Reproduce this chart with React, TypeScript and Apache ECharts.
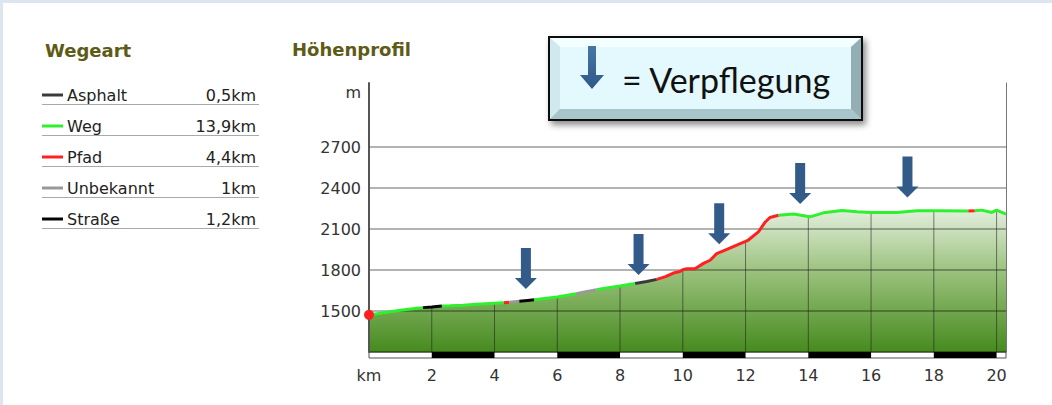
import React, { useEffect, useRef } from 'react';
import * as echarts from 'echarts';

// Elevation profile (km, m)
const profileKm = [
  0.0, 0.46, 1.0, 1.52, 1.72, 2.0, 2.32, 2.58, 3.0, 3.43, 4.0, 4.3, 4.47, 4.79, 5.13, 5.26,
  6.0, 6.6, 6.83, 7.25, 7.47, 8.0, 8.48, 8.85, 9.17, 9.45, 9.7, 9.91, 10.0, 10.13, 10.39,
  10.66, 10.87, 11.08, 11.35, 11.72, 12.0, 12.09, 12.41, 12.62, 12.78, 13.05, 13.53, 14.0,
  14.06, 14.48, 15.07, 15.55, 16.0, 16.08, 16.82, 17.46, 18.0, 18.1, 19.1, 19.3, 19.53,
  19.85, 20.0, 20.3,
];
const profileElev = [
  1472, 1488, 1505, 1520, 1525, 1530, 1536, 1538, 1543, 1549, 1557, 1561, 1565, 1571, 1579, 1582,
  1603, 1627, 1638, 1656, 1666, 1683, 1702, 1716, 1732, 1752, 1778, 1790, 1803, 1810, 1810,
  1849, 1872, 1920, 1946, 1983, 2010, 2020, 2080, 2150, 2185, 2202, 2210, 2193,
  2190, 2219, 2237, 2227, 2222, 2222, 2222, 2234, 2234, 2234, 2232, 2235, 2239,
  2222, 2239, 2210,
];

// Path type segments (start km, type)
const segStart = [0, 1.72, 2.32, 4.3, 4.47, 4.79, 5.26, 6.6, 7.25, 8.48, 9.17, 13.05, 19.1, 19.3];
const segType = ['Weg', 'Straße', 'Weg', 'Pfad', 'Unbekannt', 'Straße', 'Weg', 'Unbekannt', 'Weg', 'Asphalt', 'Pfad', 'Weg', 'Pfad', 'Weg'];

// Legend (Wegeart)
const wegTypes = ['Asphalt', 'Weg', 'Pfad', 'Unbekannt', 'Straße'];
const wegKm = ['0,5km', '13,9km', '4,4km', '1km', '1,2km'];
const wegColors = ['#3a3a3a', '#2ff02f', '#ff2020', '#999999', '#050505'];

// Verpflegung arrows (km, elevation of arrow tip)
const arrowKm = [5.0, 8.59, 11.16, 13.74, 17.16];
const arrowTip = [1661, 1763, 1990, 2283, 2332];

// Axis ticks
const yLabelValues = [1500, 1800, 2100, 2400, 2700];
const xLabelValues = [2, 4, 6, 8, 10, 12, 14, 16, 18, 20];
const stripeStartKm = [2, 6, 10, 14, 18];

const FONT = '"DejaVu Sans", sans-serif';
const ARROW_PATH = 'path://M6,0 L16,0 L16,30 L22,30 L11,41 L0,30 L6,30 Z';

export default function App() {
  const ref = useRef<HTMLDivElement>(null);

  useEffect(() => {
    if (!ref.current) return;
    const chart = echarts.init(ref.current, undefined, { renderer: 'svg' });

    const kmMax = profileKm[profileKm.length - 1];

    const lineSeries = wegTypes.map((t, ti) => {
      const data: any[] = [];
      segStart.forEach((s, si) => {
        if (segType[si] !== t) return;
        const e = si + 1 < segStart.length ? segStart[si + 1] : kmMax;
        profileKm.forEach((k, pi) => {
          if (k >= s && k <= e) data.push([k, profileElev[pi]]);
        });
        data.push([e, '-']);
      });
      return {
        type: 'line',
        name: t,
        data,
        xAxisIndex: 0,
        yAxisIndex: 0,
        symbol: 'none',
        showSymbol: false,
        connectNulls: false,
        clip: false,
        lineStyle: { color: wegColors[ti], width: 3 },
        z: 4,
        silent: true,
      };
    });

    const gridBars = profileKm
      .map((k, i) => [k, profileElev[i]])
      .filter(([k]) => k > 0 && Math.abs(k / 2 - Math.round(k / 2)) < 1e-9);

    const graphics: any[] = [];
    graphics.push({
      type: 'text', x: 45, y: 50,
      style: { text: 'Wegeart', font: `bold 18px ${FONT}`, fill: '#5e5b17', verticalAlign: 'middle' },
    });
    graphics.push({
      type: 'text', x: 292, y: 49,
      style: { text: 'Höhenprofil', font: `bold 18px ${FONT}`, fill: '#5e5b17', verticalAlign: 'middle' },
    });
    wegTypes.forEach((t, i) => {
      const y = 95 + i * 31;
      graphics.push({ type: 'line', shape: { x1: 42, y1: y, x2: 63, y2: y }, style: { stroke: wegColors[i], lineWidth: 3 } });
      graphics.push({ type: 'text', x: 67, y, style: { text: t, font: `16px ${FONT}`, fill: '#222', verticalAlign: 'middle' } });
      graphics.push({ type: 'text', x: 256, y, style: { text: wegKm[i], font: `16px ${FONT}`, fill: '#222', verticalAlign: 'middle', align: 'right' } });
      graphics.push({ type: 'line', shape: { x1: 42, y1: y + 9.5, x2: 259, y2: y + 9.5 }, style: { stroke: '#aaaaaa', lineWidth: 1 } });
    });

    // Verpflegung box
    const bx = 549, by = 37, bw = 313, bh = 83, bv = 10;
    graphics.push({
      type: 'rect', shape: { x: bx, y: by, width: bw, height: bh },
      style: { fill: '#c6e3e8', stroke: '#111', lineWidth: 2, shadowBlur: 6, shadowOffsetX: 3, shadowOffsetY: 4, shadowColor: 'rgba(0,0,0,0.45)' },
      z: 10,
    });
    const x0 = bx + 1, y0 = by + 1, x1 = bx + bw - 1, y1 = by + bh - 1;
    graphics.push({ type: 'polygon', shape: { points: [[x0, y0], [x1, y0], [x1 - bv, y0 + 9], [x0 + bv, y0 + 9]] }, style: { fill: '#f3feff' }, z: 11 });
    graphics.push({ type: 'polygon', shape: { points: [[x0, y0], [x0 + bv, y0 + 9], [x0 + bv, y1 - bv], [x0, y1]] }, style: { fill: '#cfe9ee' }, z: 11 });
    graphics.push({ type: 'polygon', shape: { points: [[x1, y0], [x1, y1], [x1 - bv, y1 - bv], [x1 - bv, y0 + 9]] }, style: { fill: '#93aeb5' }, z: 11 });
    graphics.push({ type: 'polygon', shape: { points: [[x0, y1], [x1, y1], [x1 - bv, y1 - bv], [x0 + bv, y1 - bv]] }, style: { fill: '#a8c5cb' }, z: 11 });
    graphics.push({ type: 'rect', shape: { x: x0 + bv, y: y0 + 9, width: x1 - x0 - 2 * bv, height: y1 - y0 - 9 - bv }, style: { fill: '#e3f9fd' }, z: 11 });
    graphics.push({
      type: 'polygon',
      shape: { points: [[588, 46], [596, 46], [596, 75], [604, 75], [592, 89], [580, 75], [588, 75]] },
      style: { fill: new echarts.graphic.LinearGradient(0, 0, 0, 1, [{ offset: 0, color: '#4676a8' }, { offset: 1, color: '#2f5886' }]) },
      z: 12,
    });
    graphics.push({
      type: 'text', x: 622, y: 79,
      style: { text: '= Verpflegung', font: `34px Lato, "Open Sans", sans-serif`, fill: '#111', verticalAlign: 'middle' },
      z: 12,
    });

    const option: any = {
      animation: false,
      backgroundColor: 'transparent',
      textStyle: { fontFamily: FONT },
      grid: [
        { left: 369, right: 46, top: 83, bottom: 53, containLabel: false, outerBoundsMode: 'none' },
        { left: 369, right: 46, top: 352, height: 6, show: true, borderColor: '#555', borderWidth: 1, backgroundColor: '#ffffff', containLabel: false, outerBoundsMode: 'none' },
      ],
      xAxis: [
        { type: 'value', gridIndex: 0, min: 0, max: kmMax, show: false },
        {
          type: 'value', gridIndex: 1, min: 0, max: kmMax, interval: 2,
          axisLine: { show: false }, axisTick: { show: false }, splitLine: { show: false },
          axisLabel: {
            margin: 9, color: '#333', fontSize: 16, fontFamily: FONT,
            showMaxLabel: true,
            formatter: (v: number) => (v === 0 ? 'km' : xLabelValues.includes(v) ? String(v) : ''),
          },
        },
      ],
      yAxis: [
        {
          type: 'value', gridIndex: 0, min: 1200, max: 3170, interval: 300, z: 2,
          name: 'm', nameLocation: 'end', nameGap: -17,
          nameTextStyle: { color: '#333', fontSize: 16, fontFamily: FONT, align: 'right', padding: [0, 8, 0, 0] },
          axisLine: { show: true, lineStyle: { color: '#555', width: 2 } },
          axisTick: { show: false },
          axisLabel: {
            margin: 8, color: '#333', fontSize: 16, fontFamily: FONT,
            formatter: (v: number) => (yLabelValues.includes(v) ? String(v) : ''),
          },
          splitLine: {
            show: true,
            lineStyle: {
              width: 1.5,
              color: ['rgba(0,0,0,0.45)', 'rgba(0,0,0,0.4)', 'rgba(0,0,0,0.4)', 'rgba(0,0,0,0.4)', 'rgba(0,0,0,0.4)', 'rgba(0,0,0,0.4)', 'rgba(0,0,0,0)', 'rgba(0,0,0,0)'],
            },
          },
        },
        { type: 'value', gridIndex: 1, min: 0, max: 1, show: false },
        {
          type: 'value', gridIndex: 0, min: 1200, max: 3170, position: 'right', z: 2,
          axisLine: { show: true, lineStyle: { color: '#777', width: 1 } },
          axisTick: { show: false }, axisLabel: { show: false }, splitLine: { show: false },
        },
      ],
      graphic: graphics,
      series: [
        {
          type: 'line',
          name: 'Höhenprofil',
          data: profileKm.map((k, i) => [k, profileElev[i]]),
          xAxisIndex: 0, yAxisIndex: 0,
          symbol: 'none', showSymbol: false, silent: true,
          lineStyle: { width: 0 },
          areaStyle: {
            opacity: 1,
            color: new echarts.graphic.LinearGradient(0, 0, 0, 1, [
              { offset: 0, color: '#e2eedb' },
              { offset: 0.45, color: '#98c07a' },
              { offset: 1, color: '#468a1e' },
            ]),
          },
          z: 1,
        },
        {
          type: 'bar',
          name: 'grid',
          data: gridBars,
          xAxisIndex: 0, yAxisIndex: 0,
          barWidth: 1,
          silent: true,
          itemStyle: { color: 'rgba(30,30,30,0.55)' },
          z: 2,
        },
        ...lineSeries,
        {
          type: 'scatter',
          name: 'Start',
          data: [[profileKm[0], profileElev[0]]],
          xAxisIndex: 0, yAxisIndex: 0,
          symbol: 'circle', symbolSize: 10, clip: false, silent: true,
          itemStyle: { color: '#ff1f1f', opacity: 1 },
          z: 6,
        },
        {
          type: 'scatter',
          name: 'Verpflegung',
          data: arrowKm.map((k, i) => [k, arrowTip[i]]),
          xAxisIndex: 0, yAxisIndex: 0,
          symbol: ARROW_PATH, symbolSize: [22, 41], symbolOffset: [0, '-50%'],
          clip: false, silent: true,
          itemStyle: { color: '#335b8a', opacity: 1 },
          z: 6,
        },
        {
          type: 'line',
          name: 'Skala',
          data: [],
          xAxisIndex: 1, yAxisIndex: 1,
          symbol: 'none', silent: true,
          markArea: {
            silent: true,
            itemStyle: { color: '#000', opacity: 1 },
            data: stripeStartKm.map((k) => [{ xAxis: k, yAxis: 0 }, { xAxis: k + 2, yAxis: 1 }]),
          },
        },
      ],
    };

    chart.setOption(option);
    return () => chart.dispose();
  }, []);

  return (
    <div style={{ position: 'absolute', left: 0, top: 0, width: 1052, height: 405, background: '#dde6f0' }}>
      <div style={{ position: 'absolute', left: 3, top: 3, width: 1049, height: 402, background: '#ffffff' }} />
      <div ref={ref} style={{ position: 'absolute', left: 0, top: 0, width: 1052, height: 405 }} />
    </div>
  );
}
